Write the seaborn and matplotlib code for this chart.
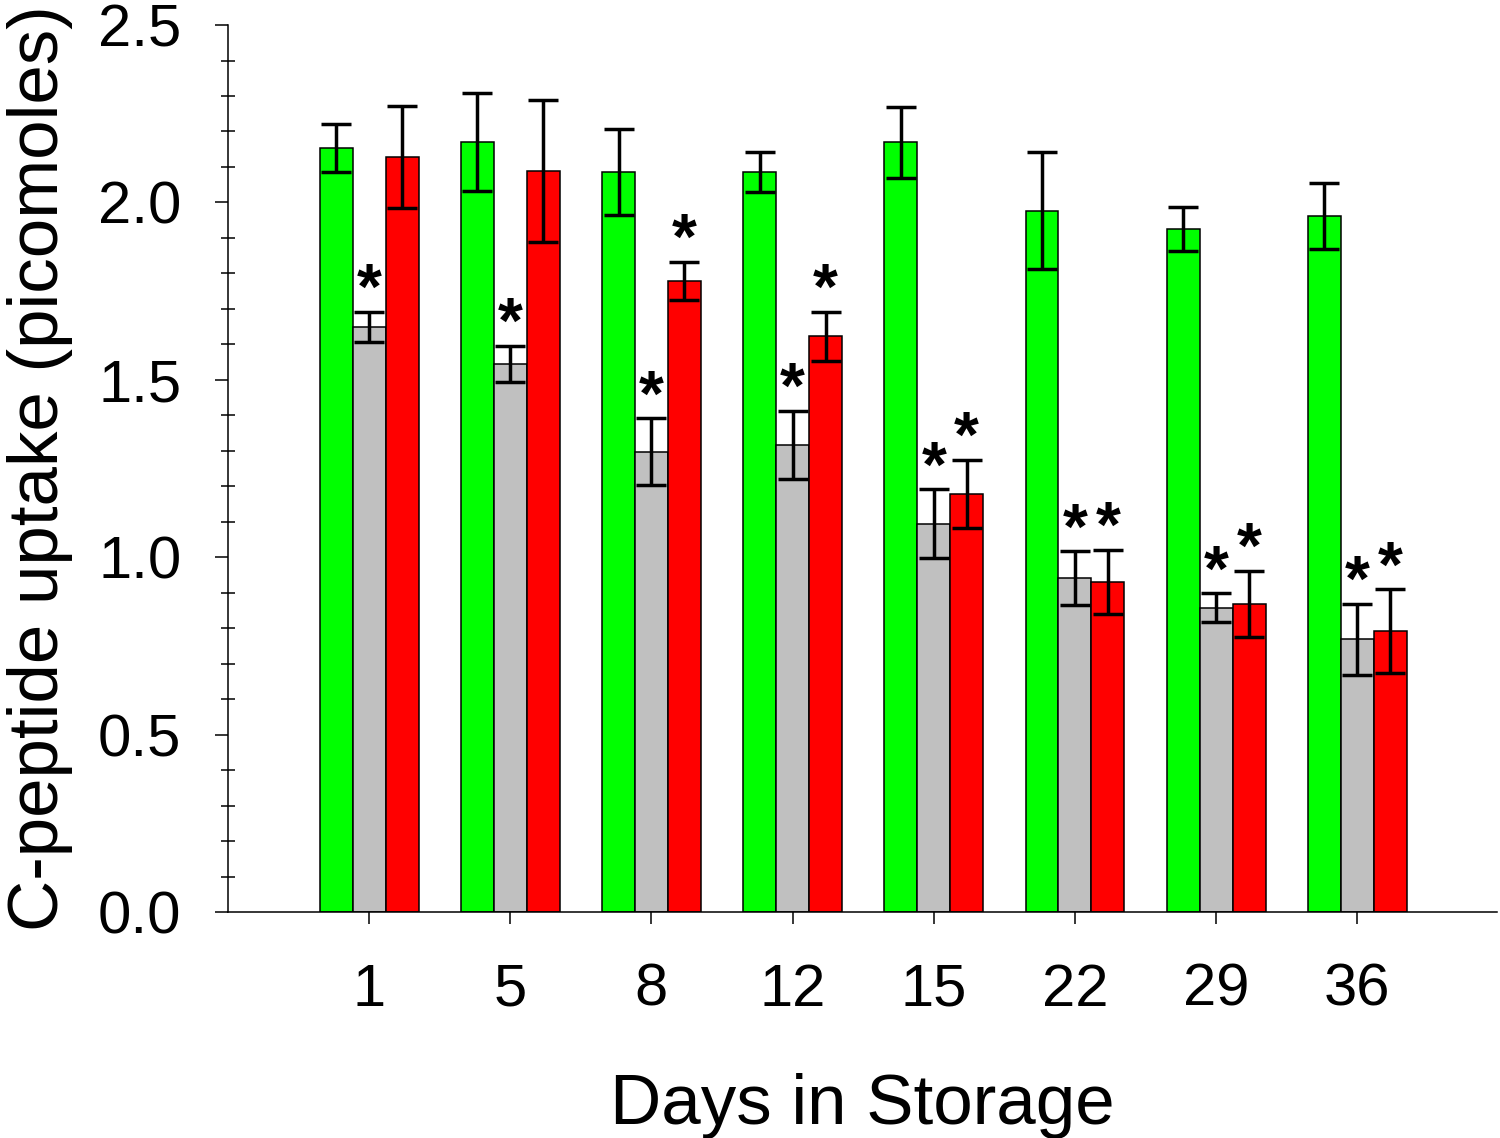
import numpy as np
import pandas as pd
import matplotlib
matplotlib.use("Agg")
import matplotlib.pyplot as plt
from matplotlib.ticker import MultipleLocator
import seaborn as sns

# ---------------------------------------------------------------
# data
days = ["1", "5", "8", "12", "15", "22", "29", "36"]
groups = ["A", "B", "C"]

mean_a = [2.153, 2.170, 2.086, 2.086, 2.169, 1.977, 1.925, 1.962]
mean_b = [1.649, 1.545, 1.297, 1.316, 1.094, 0.941, 0.857, 0.769]
mean_c = [2.128, 2.089, 1.778, 1.623, 1.179, 0.930, 0.868, 0.792]

sem_a = [0.068, 0.138, 0.122, 0.057, 0.100, 0.165, 0.062, 0.092]
sem_b = [0.042, 0.051, 0.094, 0.096, 0.097, 0.076, 0.041, 0.100]
sem_c = [0.144, 0.200, 0.054, 0.069, 0.096, 0.090, 0.094, 0.118]

# significance markers (asterisk above bar)
sig_a = [False] * 8
sig_b = [True] * 8
sig_c = [False, False, True, True, True, True, True, True]

colors = ["#00ff00", "#c0c0c0", "#ff0000"]

means = [mean_a, mean_b, mean_c]
sems = [sem_a, sem_b, sem_c]
sigs = [sig_a, sig_b, sig_c]

df = pd.DataFrame({
    "day": days * 3,
    "group": [g for g in groups for _ in days],
    "uptake": mean_a + mean_b + mean_c,
})

# ---------------------------------------------------------------
sns.set_style("ticks", {"axes.edgecolor": "black", "text.color": "black",
                        "xtick.color": "black", "ytick.color": "black",
                        "axes.labelcolor": "black"})
plt.rcParams["font.family"] = ["Liberation Sans", "DejaVu Sans"]

fig = plt.figure(figsize=(15, 11.38), dpi=100)
ax = fig.add_axes([0.152, 0.1986, 0.846, 0.7794])

sns.barplot(
    data=df, x="day", y="uptake", hue="group",
    order=days, hue_order=groups, palette=colors,
    width=0.7, edgecolor="black", linewidth=1.1,
    errorbar=None, legend=False, saturation=1, ax=ax
)

# error bars + asterisks at the bar centres
for cont, m, s, sg in zip(ax.containers, means, sems, sigs):
    xs = [b.get_x() + b.get_width() / 2 for b in cont]
    ax.errorbar(xs, m, yerr=s, fmt="none", ecolor="black",
                elinewidth=2.5, capsize=10.5, capthick=2.5, zorder=5)
    for x, mv, sv, flag in zip(xs, m, s, sg):
        if flag:
            ax.text(x, mv + sv + 0.008, "*", ha="center", va="baseline",
                    fontsize=46, fontweight="bold", color="black")

ax.set_xlim(-1.0, 7.99)
ax.set_ylim(0, 2.5)
ax.set_yticks(np.arange(0, 2.51, 0.5))
ax.set_yticklabels([f"{v:.1f}" for v in np.arange(0, 2.51, 0.5)])
ax.yaxis.set_minor_locator(MultipleLocator(0.1))

ax.tick_params(axis="y", which="major", direction="out", length=9.5,
               width=1.1, labelsize=43, pad=24, colors="black")
ax.tick_params(axis="y", which="minor", direction="inout", length=10,
               width=1.1, colors="black")
ax.tick_params(axis="x", which="major", direction="out", length=8.5,
               width=1.1, labelsize=43, pad=28, colors="black")

for side in ["top", "right"]:
    ax.spines[side].set_visible(False)
for side in ["left", "bottom"]:
    ax.spines[side].set_linewidth(1.1)
    ax.spines[side].set_color("black")

ax.set_xlabel("Days in Storage", fontsize=51, labelpad=40, color="black")
ax.set_ylabel("C-peptide uptake (picomoles)", fontsize=51, labelpad=18,
              color="black")

fig.savefig("out.png", dpi=100)
